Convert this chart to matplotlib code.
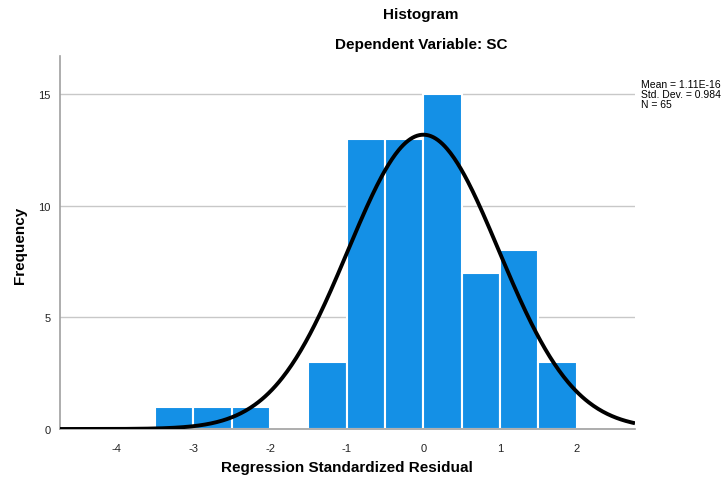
import numpy as np
import matplotlib
matplotlib.use("Agg")
import matplotlib.pyplot as plt

plt.rcParams['font.family'] = ['Liberation Sans', 'DejaVu Sans']
plt.rcParams['axes.unicode_minus'] = False

bin_edges = [-3.5, -3.0, -2.5, -2.0, -1.5, -1.0, -0.5, 0.0, 0.5, 1.0, 1.5, 2.0]
counts = [1, 1, 1, 0, 3, 13, 13, 15, 7, 8, 3]
mean = 1.11e-16
std = 0.984
n = 65
x_ticks = [-4, -3, -2, -1, 0, 1, 2]
y_ticks = [0, 5, 10, 15]

fig = plt.figure(figsize=(7.23, 4.81), dpi=100)
ax = fig.add_axes([60/723, 1-430/481, 575/723, 373/481])

lefts = np.array(bin_edges[:-1])
widths = np.diff(bin_edges)
ax.bar(lefts, counts, width=widths, align='edge', color='#1490E6',
       edgecolor='white', linewidth=1.5, zorder=2)

xlim = (-4.74, 2.76)
xs = np.linspace(xlim[0], xlim[1], 500)
bw = 0.5
ys = n * bw / (std * np.sqrt(2*np.pi)) * np.exp(-0.5*((xs-mean)/std)**2)
ax.plot(xs, ys, color='black', linewidth=2.8, zorder=3, solid_capstyle='butt')

ax.set_xlim(*xlim)
ax.set_ylim(0, 16.7)
ax.set_xticks(x_ticks)
ax.set_yticks(y_ticks)
ax.tick_params(axis='x', length=0, labelsize=8, colors='#222222', pad=10)
ax.tick_params(axis='y', length=0, labelsize=8, colors='#222222', pad=7)
ax.yaxis.grid(True, color='#C8C8C8', linewidth=1, zorder=0)
ax.set_axisbelow(True)
for s in ['top', 'right']:
    ax.spines[s].set_visible(False)
for s in ['left', 'bottom']:
    ax.spines[s].set_color('#A0A0A0')
    ax.spines[s].set_linewidth(1.2)

fig.text(347/723, 1-468/481, 'Regression Standardized Residual', ha='center', va='center',
         fontsize=11, fontweight='bold')
fig.text(20/723, 1-245/481, 'Frequency', ha='center', va='center', rotation=90,
         fontsize=11, fontweight='bold')

fig.text(421/723, 1-15/481, 'Histogram', ha='center', va='center', fontsize=11, fontweight='bold')
fig.text(421/723, 1-45/481, 'Dependent Variable: SC', ha='center', va='center', fontsize=11, fontweight='bold')

fig.text(641/723, 1-95/481, 'Mean = 1.11E-16\nStd. Dev. = 0.984\nN = 65', ha='left', va='center',
         fontsize=7.5, linespacing=0.95)

fig.savefig('out.png', dpi=100)
